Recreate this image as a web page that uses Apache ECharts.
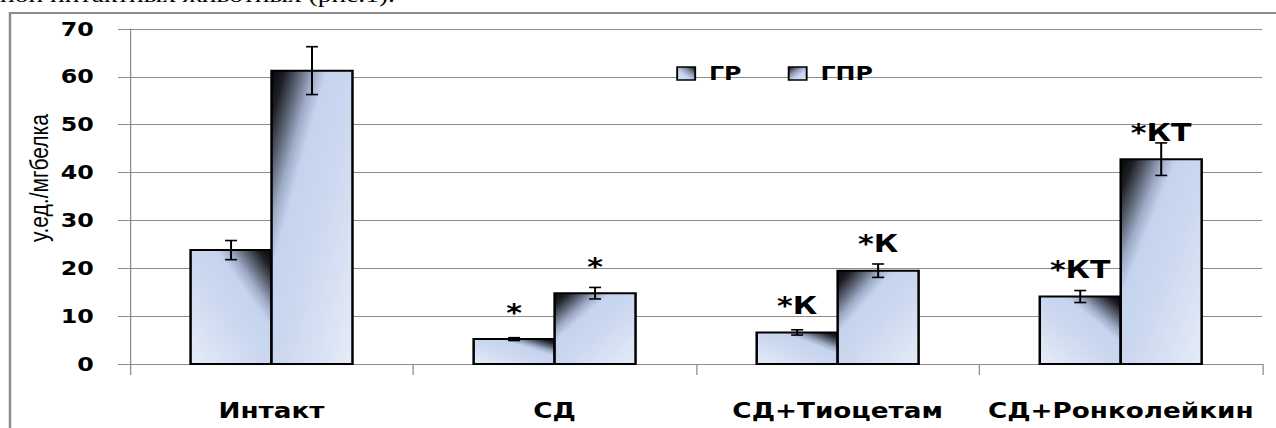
<!DOCTYPE html>
<html>
<head>
<meta charset="utf-8">
<script src="https://cdn.jsdelivr.net/npm/echarts@6/dist/echarts.min.js"></script>
<style>
html, body { margin: 0; padding: 0; background: #fff; overflow: hidden; }
.chart-wrap { width: 1276px; height: 428px; overflow: hidden; position: relative; }
/* the source picture is stretched sideways, so the chart is drawn narrower and scaled */
.target-dom { width: 1020.8px; height: 428px; transform: scaleX(1.25); transform-origin: 0 0; }
</style>
</head>
<body>
<div class="chart-wrap"><div id="dom" class="target-dom"></div></div>
<script>
const categories = ['Интакт', 'СД', 'СД+Тиоцетам', 'СД+Ронколейкин']
const seriesNames = ['ГР', 'ГПР']
const grValues = [23.8, 5.2, 6.6, 14.1]
const grErrors = [2.0, 0.3, 0.55, 1.25]
const gprValues = [61.3, 14.8, 19.5, 42.8]
const gprErrors = [5.0, 1.2, 1.4, 3.4]
const grMarks = ['', '*', '*К', '*КТ']
const gprMarks = ['', '*', '*К', '*КТ']
const yTicks = [0, 10, 20, 30, 40, 50, 60, 70]

const BAR_FRAC = 0.286
const BOLD = '"DejaVu Sans", Verdana, sans-serif'
const GRID_GRAY = '#8c8c8c'

// dark corner fading into pale blue
const fillStops = [
  { offset: 0, color: '#060608' },
  { offset: 0.08, color: '#1c1e24' },
  { offset: 0.17, color: '#5a6272' },
  { offset: 0.26, color: '#9eabc6' },
  { offset: 0.34, color: '#c5d3ee' },
  { offset: 0.55, color: '#ccd8f0' },
  { offset: 1, color: '#e6ecf7' },
]

function cornerFill(x0, y0, w, h, fromRight) {
  const t = (w * w) / (w * w + h * h)
  const sx = fromRight ? x0 + w : x0
  const dx = fromRight ? -(1 - t) * w : (1 - t) * w
  return new echarts.graphic.LinearGradient(sx, y0, sx + 2 * dx, y0 + 2 * t * h, fillStops, true)
}

function makeRender(marks, side) {
  return function (params, api) {
    const i = api.value(0)
    const v = api.value(1)
    const e = api.value(2)
    const bw = api.size([1, 0])[0] * BAR_FRAC
    const base = api.coord([i, 0])
    const top = api.coord([i, v])[1]
    const x0 = side < 0 ? base[0] - bw : base[0]
    const cx = x0 + bw / 2
    const h = base[1] - top
    const yHi = api.coord([i, v + e])[1]
    const yLo = api.coord([i, v - e])[1]
    const cap = 4.8
    const errStyle = { stroke: '#000', lineWidth: 1.6 }
    const children = [
      {
        type: 'rect',
        shape: { x: x0, y: top, width: bw, height: h },
        style: { fill: cornerFill(x0, top, bw, h, side < 0), stroke: '#000', lineWidth: 2 },
      },
      { type: 'line', shape: { x1: cx, y1: yHi, x2: cx, y2: yLo }, style: errStyle },
      { type: 'line', shape: { x1: cx - cap, y1: yHi, x2: cx + cap, y2: yHi }, style: errStyle },
      { type: 'line', shape: { x1: cx - cap, y1: yLo, x2: cx + cap, y2: yLo }, style: errStyle },
    ]
    if (marks[params.dataIndex]) {
      children.push({
        type: 'text',
        x: cx,
        y: top - 27,
        style: {
          text: marks[params.dataIndex],
          fill: '#000',
          font: 'bold 24px ' + BOLD,
          textAlign: 'center',
          textVerticalAlign: 'middle',
        },
      })
    }
    return { type: 'group', children }
  }
}

let instance = null
function initEcharts() {
  if (instance) {
    instance.dispose()
    instance = null
  }
  instance = echarts.init(document.getElementById('dom'), null, { renderer: 'svg' })

  const grData = grValues.map((v, i) => [i, v, grErrors[i]])
  const gprData = gprValues.map((v, i) => [i, v, gprErrors[i]])
  const legendFill = (fromRight) =>
    new echarts.graphic.LinearGradient(fromRight ? 1 : 0, 0, fromRight ? 0 : 1, 1, [
      { offset: 0, color: '#101014' },
      { offset: 0.35, color: '#8d96aa' },
      { offset: 0.6, color: '#c5d3ee' },
      { offset: 1, color: '#e6ecf7' },
    ])

  const options = {
    animation: false,
    grid: { left: 104, right: 11.2, top: 29, bottom: 64 },
    legend: {
      left: 536,
      top: 58.5,
      itemWidth: 14.4,
      itemHeight: 13,
      itemGap: 37,
      data: [
        { name: seriesNames[0], icon: 'rect', itemStyle: { color: legendFill(true), borderColor: '#000', borderWidth: 1.5 } },
        { name: seriesNames[1], icon: 'rect', itemStyle: { color: legendFill(false), borderColor: '#000', borderWidth: 1.5 } },
      ],
      textStyle: { fontFamily: BOLD, fontWeight: 'bold', fontSize: 19, color: '#000', lineHeight: 20, padding: [0, 0, 0, 6] },
    },
    graphic: [
      {
        type: 'text',
        left: 0,
        top: -17,
        style: { text: 'ной интактных животных (рис.1).', font: '22px "Liberation Serif", "Times New Roman", serif', fill: '#000' },
      },
      {
        type: 'rect',
        shape: { x: 8, y: 13, width: 2000, height: 1000 },
        style: { fill: 'none', stroke: GRID_GRAY, lineWidth: 2 },
        silent: true,
      },
      {
        type: 'text',
        x: 31.2,
        y: 178,
        rotation: Math.PI / 2,
        style: {
          text: 'у.ед./мгбелка',
          font: '21px "Liberation Sans", Arial, sans-serif',
          fill: '#000',
          textAlign: 'center',
          textVerticalAlign: 'middle',
        },
      },
    ],
    xAxis: {
      type: 'category',
      data: categories,
      axisLine: { lineStyle: { color: GRID_GRAY, width: 1 } },
      axisTick: { show: true, length: 11, lineStyle: { color: GRID_GRAY } },
      axisLabel: { interval: 0, color: '#000', fontFamily: BOLD, fontWeight: 'bold', fontSize: 21, margin: 36 },
    },
    yAxis: {
      type: 'value',
      min: yTicks[0],
      max: yTicks[yTicks.length - 1],
      interval: yTicks[1] - yTicks[0],
      axisLine: { show: true, lineStyle: { color: GRID_GRAY, width: 1 } },
      axisTick: { show: true, length: 9.6, lineStyle: { color: GRID_GRAY } },
      axisLabel: { color: '#000', fontFamily: BOLD, fontWeight: 'bold', fontSize: 19, margin: 29 },
      splitLine: { lineStyle: { color: GRID_GRAY, width: 1 } },
    },
    series: [
      {
        name: seriesNames[0],
        type: 'custom',
        renderItem: makeRender(grMarks, -1),
        encode: { x: 0, y: 1 },
        data: grData,
        z: 3,
      },
      {
        name: seriesNames[1],
        type: 'custom',
        renderItem: makeRender(gprMarks, 1),
        encode: { x: 0, y: 1 },
        data: gprData,
        z: 3,
      },
    ],
  }
  instance.setOption(options)
}

initEcharts()
</script>
</body>
</html>
